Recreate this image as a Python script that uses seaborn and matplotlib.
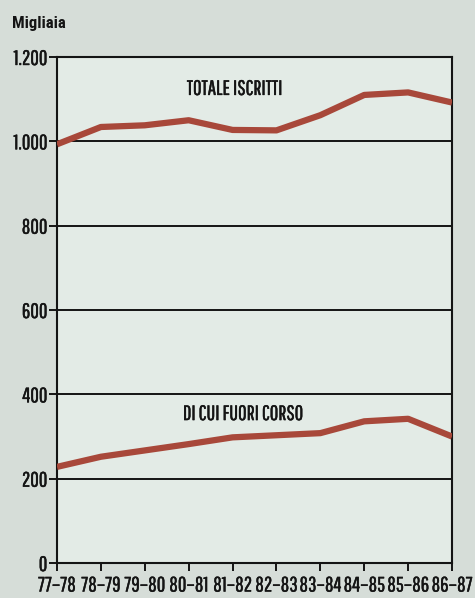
import pandas as pd
import matplotlib
matplotlib.use('Agg')
import matplotlib.pyplot as plt
import matplotlib.patheffects as pe
import seaborn as sns

anni = ['77–78', '78–79', '79–80', '80–81', '81–82',
        '82–83', '83–84', '84–85', '85–86', '86–87']
totale_iscritti = [993, 1034, 1038, 1050, 1027, 1026, 1062, 1110, 1116, 1092]
fuori_corso = [228, 252, 267, 282, 298, 303, 308, 336, 342, 300]
y_ticks = [0, 200, 400, 600, 800, 1000, 1200]
y_labels = ['0', '200', '400', '600', '800', '1.000', '1.200']

BG = '#d6ddd8'
PANEL = '#e3ebe6'
RED = '#a8483a'
INK = '#141414'
FONT = ['Pathway Gothic One', 'Roboto Condensed', 'DejaVu Sans']
BOLD = ['Roboto Condensed', 'DejaVu Sans']


def main():
    df = pd.DataFrame({
        'anno': anni * 2,
        'valore': totale_iscritti + fuori_corso,
        'serie': ['totale'] * len(anni) + ['fuori'] * len(anni),
    })
    df['x'] = df.groupby('serie').cumcount()

    sns.set_style('ticks')
    plt.rcParams['font.family'] = FONT

    fig = plt.figure(figsize=(4.75, 5.98), dpi=100, facecolor=BG)
    ax = fig.add_axes([0.12, 0.0585, 0.8316, 0.8462])
    ax.set_facecolor(PANEL)

    for v in [200, 400, 600, 800, 1000]:
        ax.axhline(v, color=INK, lw=1.4, zorder=1)

    sns.lineplot(data=df, x='x', y='valore', units='serie', estimator=None,
                 color=RED, lw=4.5, ax=ax, zorder=3, solid_capstyle='butt')

    ax.set_xlim(0, len(anni) - 1)
    ax.set_ylim(0, 1200)
    ax.set_xticks(range(len(anni)))
    ax.set_xticklabels(anni)
    ax.set_yticks(y_ticks)
    ax.set_yticklabels(y_labels)
    ax.set_xlabel('')
    ax.set_ylabel('')

    for s in ax.spines.values():
        s.set_color(INK)
        s.set_linewidth(1.5)

    ax.tick_params(axis='both', direction='out', length=6, width=1.4,
                   color=INK, labelsize=15, labelcolor=INK, pad=1)
    ax.tick_params(axis='x', pad=3)

    # the scan's lettering is a little heavier than the font
    thick = [pe.withStroke(linewidth=0.3, foreground=INK)]
    for lab in ax.get_xticklabels() + ax.get_yticklabels():
        lab.set_path_effects(thick)

    ax.text(4.05, 1110, 'TOTALE ISCRITTI', ha='center', va='baseline',
            fontsize=15, color=INK, path_effects=thick)
    ax.text(4.24, 339, 'DI CUI FUORI CORSO', ha='center', va='baseline',
            fontsize=15, color=INK, path_effects=thick)
    fig.text(0.025, 0.953, 'Migliaia', ha='left', va='baseline',
             fontsize=12, fontweight='bold', color=INK, family=BOLD)

    fig.savefig('out.png', dpi=100, facecolor=BG)


if __name__ == '__main__':
    main()
